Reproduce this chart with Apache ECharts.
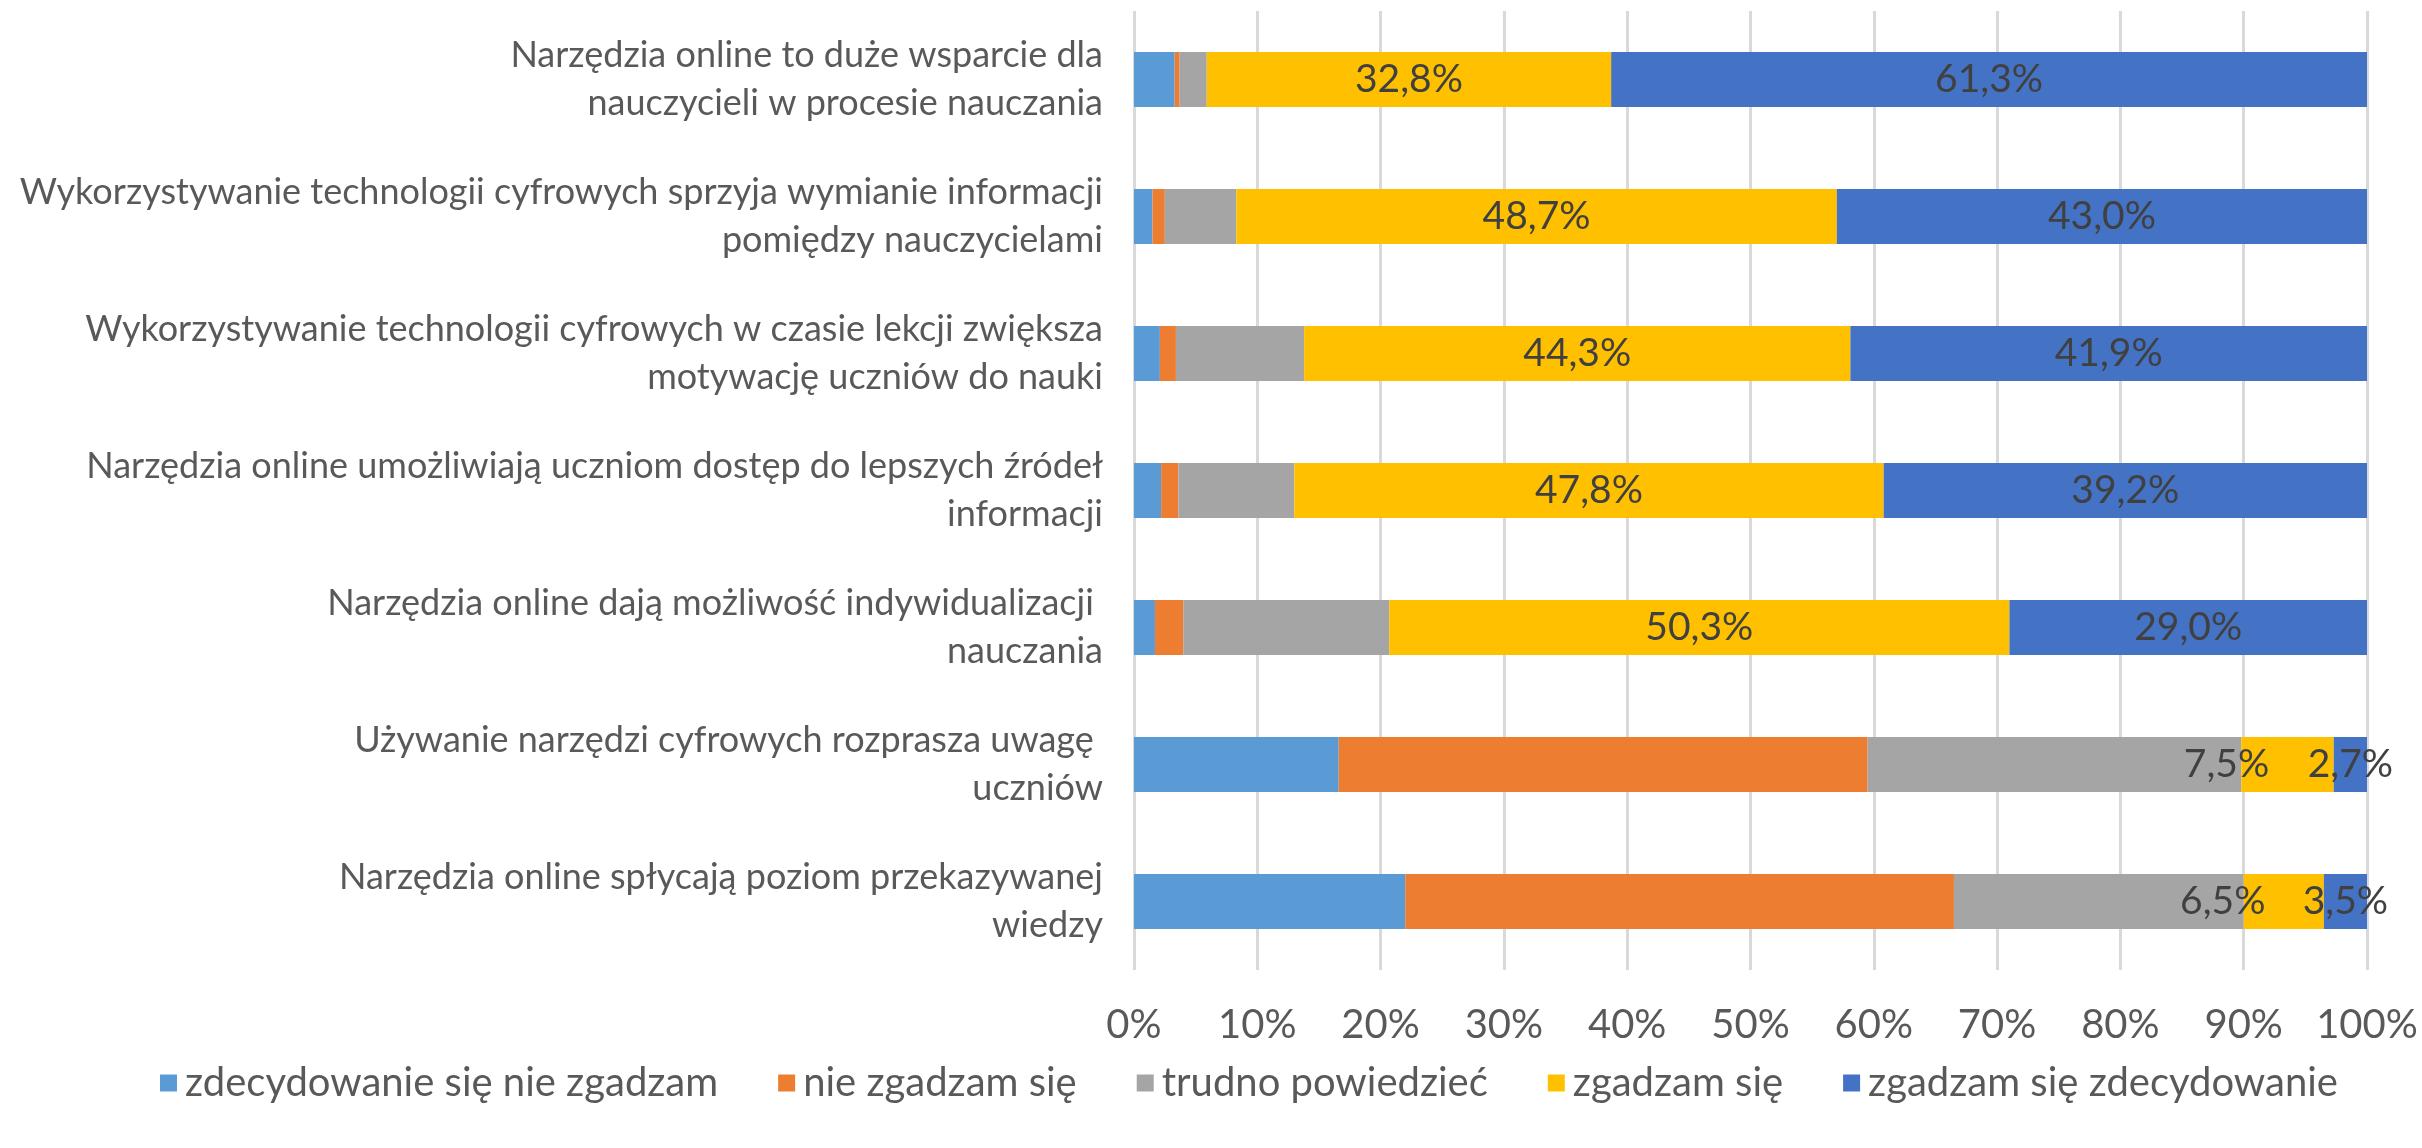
<!DOCTYPE html>
<html>
<head>
<meta charset="utf-8">
<script src="https://cdn.jsdelivr.net/npm/echarts@6/dist/echarts.min.js"></script>
<style>
    html, body { margin: 0; padding: 0; background: #fff; }
    #chart { width: 2422px; height: 1148px; }
</style>
</head>
<body>
<div id="chart"></div>
<script>
    // data (percent of answers)
    const categories = [
        'Narzędzia online to duże wsparcie dla\nnauczycieli w procesie nauczania',
        'Wykorzystywanie technologii cyfrowych sprzyja wymianie informacji\npomiędzy nauczycielami',
        'Wykorzystywanie technologii cyfrowych w czasie lekcji zwiększa\nmotywację uczniów do nauki',
        'Narzędzia online umożliwiają uczniom dostęp do lepszych źródeł\ninformacji',
        'Narzędzia online dają możliwość indywidualizacji \nnauczania',
        'Używanie narzędzi cyfrowych rozprasza uwagę \nuczniów',
        'Narzędzia online spłycają poziom przekazywanej\nwiedzy',
    ];
    const seriesNames = [
        'zdecydowanie się nie zgadzam',
        'nie zgadzam się',
        'trudno powiedzieć',
        'zgadzam się',
        'zgadzam się zdecydowanie',
    ];
    const strongDisagree = [3.3, 1.5, 2.1, 2.2, 1.7, 16.6, 22.0];
    const disagree = [0.4, 1.0, 1.3, 1.4, 2.3, 42.9, 44.5];
    const hardToSay = [2.2, 5.8, 10.4, 9.4, 16.7, 30.3, 23.5];
    const agree = [32.8, 48.7, 44.3, 47.8, 50.3, 7.5, 6.5];
    const stronglyAgree = [61.3, 43.0, 41.9, 39.2, 29.0, 2.7, 3.5];

    const colors = ['#5B9BD5', '#ED7D31', '#A5A5A5', '#FFC000', '#4472C4'];
    const font = "Lato, 'Open Sans', sans-serif";

    const pct = p => p.value.toFixed(1).replace('.', ',') + '%';

    const labelStyle = {
        show: true,
        position: 'inside',
        color: '#404040',
        fontFamily: font,
        fontSize: 39,
        formatter: pct,
    };

    function makeSeries(i, values, withLabel) {
        let data = values;
        if (withLabel && i === 3) {
            // small yellow segments: label sits a bit to the left, like in the original
            data = values.map(v => v < 10 ? { value: v, label: { offset: [-61, 0] } } : v);
        }
        return {
            name: seriesNames[i],
            type: 'bar',
            stack: 'total',
            barWidth: 55,
            itemStyle: { color: colors[i] },
            label: withLabel ? labelStyle : { show: false },
            emphasis: { disabled: true },
            data: data,
        };
    }

    const chart = echarts.init(document.getElementById('chart'));
    const option = {
        backgroundColor: '#ffffff',
        animation: false,
        textStyle: { fontFamily: font },
        grid: {
            left: 1134,
            right: 55,
            top: 11,
            bottom: 178,
            outerBoundsMode: 'none',
            containLabel: false,
        },
        legend: {
            top: 1058,
            left: 155,
            icon: 'rect',
            itemWidth: 17,
            itemHeight: 17,
            itemGap: 60,
            data: seriesNames,
            textStyle: {
                color: '#595959',
                fontFamily: font,
                fontSize: 40,
                padding: [0, 0, 0, 3],
            },
        },
        xAxis: {
            type: 'value',
            min: 0,
            max: 100,
            interval: 10,
            axisLine: { show: false },
            axisTick: { show: false },
            splitLine: { lineStyle: { color: '#D9D9D9', width: 3 } },
            axisLabel: {
                formatter: '{value}%',
                color: '#595959',
                fontFamily: font,
                fontSize: 40,
                margin: 35,
            },
        },
        yAxis: {
            type: 'category',
            inverse: true,
            data: categories,
            axisLine: { show: false },
            axisTick: { show: false },
            axisLabel: {
                color: '#595959',
                fontFamily: font,
                fontSize: 36,
                lineHeight: 48,
                margin: 31,
            },
        },
        series: [
            makeSeries(0, strongDisagree, false),
            makeSeries(1, disagree, false),
            makeSeries(2, hardToSay, false),
            makeSeries(3, agree, true),
            makeSeries(4, stronglyAgree, true),
        ],
    };
    chart.setOption(option);
</script>
</body>
</html>
